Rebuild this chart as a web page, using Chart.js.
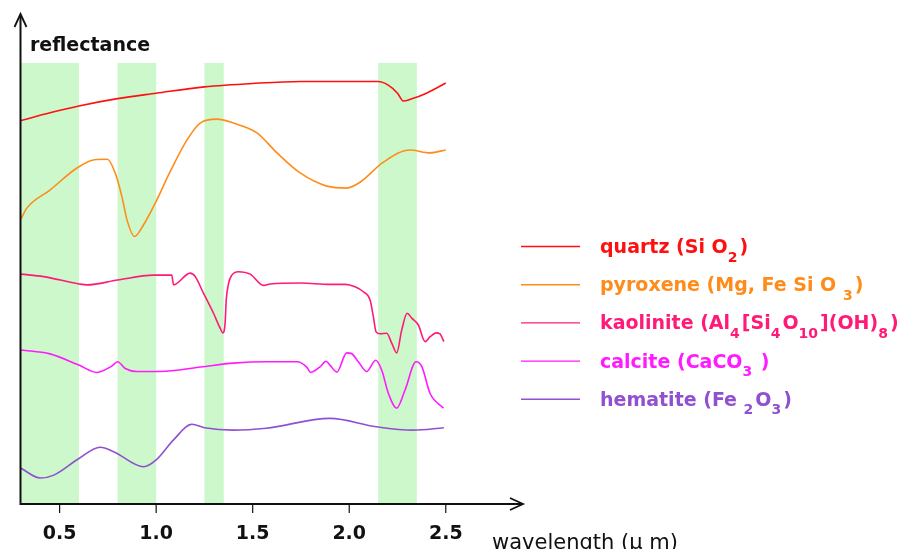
<!DOCTYPE html>
<html><head><meta charset="utf-8">
<style>html,body{margin:0;padding:0;background:#fff}</style>
<script src="https://cdn.jsdelivr.net/npm/chart.js@4/dist/chart.umd.min.js"></script>
</head><body>
<canvas id="c" width="910" height="549"></canvas>
<script>
// ---- data (wavelength in µm, reflectance in arbitrary units 0-100) ----
const xTicks = [0.5, 1.0, 1.5, 2.0, 2.5];
const bandStarts = [0.3, 0.8, 1.25, 2.15];
const bandEnds   = [0.6, 1.0, 1.35, 2.35];
const bandTop = 90;

const quartzX = [0.30,0.45,0.60,0.80,1.00,1.25,1.50,1.75,2.00,2.15,2.20,2.25,2.28,2.32,2.40,2.50];
const quartzY = [78.2,79.8,81.2,82.7,83.8,85.1,85.8,86.2,86.2,86.2,85.5,83.8,82.2,82.6,83.8,85.9];

const pyroxeneX = [0.30,0.33,0.45,0.59,0.68,0.747,0.788,0.823,0.849,0.888,0.935,0.995,1.073,1.159,1.228,1.314,1.40,1.522,1.626,1.746,1.884,1.987,2.056,2.177,2.315,2.418,2.50];
const pyroxeneY = [58.1,60.3,64.0,68.5,70.2,70.3,67.5,62.6,57.9,54.5,56.9,61.3,67.8,74.2,77.7,78.5,77.7,75.7,71.6,67.5,64.8,64.4,65.6,69.7,72.2,71.6,72.2];

const kaoliniteX = [0.30,0.417,0.60,0.642,0.80,0.985,1.081,1.09,1.176,1.202,1.245,1.297,1.332,1.345,1.357,1.363,1.375,1.392,1.426,1.487,1.556,1.59,1.75,1.90,1.98,2.03,2.073,2.108,2.125,2.139,2.16,2.194,2.22,2.246,2.272,2.30,2.324,2.358,2.393,2.419,2.45,2.47,2.49];
const kaoliniteY = [46.8,46.3,44.8,44.6,45.6,46.6,46.6,44.6,47.0,46.3,42.9,38.8,35.7,34.8,36.7,41.5,44.9,46.6,47.3,46.8,44.5,44.8,45.0,44.7,44.7,44.2,43.2,41.5,38.1,35.0,34.6,34.7,32.7,30.7,35.4,38.8,37.8,36.4,33.0,34.0,34.8,34.6,33.0];

const calciteX = [0.30,0.45,0.60,0.693,0.77,0.80,0.84,0.90,1.02,1.23,1.40,1.57,1.73,1.78,1.80,1.85,1.88,1.90,1.936,1.987,2.01,2.047,2.09,2.137,2.168,2.203,2.246,2.289,2.346,2.376,2.419,2.488];
const calciteY = [31.3,30.5,28.2,26.7,28.0,28.9,27.5,26.9,26.9,27.8,28.6,28.9,28.9,27.8,26.7,27.9,29.0,28.2,26.8,30.7,30.6,28.9,26.9,29.2,27.2,22.4,19.4,23.1,28.9,27.9,22.4,19.4];

const hematiteX = [0.30,0.40,0.47,0.60,0.71,0.78,0.935,1.00,1.09,1.185,1.25,1.40,1.57,1.90,2.14,2.33,2.49];
const hematiteY = [7.1,5.1,5.7,9.1,11.4,10.5,7.4,8.8,12.9,16.1,15.4,14.9,15.3,17.3,15.6,14.9,15.4];

const seriesNames = ['quartz','pyroxene','kaolinite','calcite','hematite'];
const seriesColors = ['#ff1010','#ff8c1a','#ff1a78','#ff1aff','#9050d0'];
// legend labels: [text, isSubscript]
const legendLabels = [
  [['quartz (Si O',0],['2',1],[')',0]],
  [['pyroxene (Mg, Fe Si O ',0],['3',1],[')',0]],
  [['kaolinite (Al',0],['4',1],['[Si',0],['4',1],['O',0],['10',1],['](OH)',0],['8',1],[')',0]],
  [['calcite (CaCO',0],['3',1],[' )',0]],
  [['hematite (Fe ',0],['2',1],['O',0],['3',1],[')',0]]
];
const xTitle = 'wavelength (\u00b5 m)';
const yTitle = 'reflectance';

const xs = [quartzX, pyroxeneX, kaoliniteX, calciteX, hematiteX];
const ys = [quartzY, pyroxeneY, kaoliniteY, calciteY, hematiteY];

const datasets = seriesNames.map((n,i)=>({
  label: n,
  data: xs[i].map((x,j)=>({x:x, y:ys[i][j]})),
  borderColor: seriesColors[i],
  borderWidth: 1.6,
  pointRadius: 0,
  showLine: true,
  fill: false,
  cubicInterpolationMode: 'monotone'
}));

const FONT = "'DejaVu Sans'";

const decor = {
  id: 'decor',
  beforeDatasetsDraw(chart) {
    const ctx = chart.ctx, xS = chart.scales.x, yS = chart.scales.y;
    ctx.save();
    ctx.fillStyle = '#ccf8cc';
    const yt = yS.getPixelForValue(bandTop), yb = yS.getPixelForValue(0);
    for (let i = 0; i < bandStarts.length; i++) {
      const x0 = xS.getPixelForValue(bandStarts[i]), x1 = xS.getPixelForValue(bandEnds[i]);
      ctx.fillRect(x0, yt, x1 - x0, yb - yt);
    }
    ctx.restore();
  },
  afterDraw(chart) {
    const ctx = chart.ctx, xS = chart.scales.x, yS = chart.scales.y, a = chart.chartArea;
    ctx.save();
    const ax = a.left - 0.5, ay = a.bottom + 1;
    ctx.strokeStyle = '#111';
    ctx.lineWidth = 2;
    ctx.beginPath();
    ctx.moveTo(ax, ay + 1); ctx.lineTo(ax, a.top + 1);
    ctx.moveTo(ax - 1, ay); ctx.lineTo(a.right - 1, ay);
    ctx.stroke();
    // arrows
    ctx.lineWidth = 1.8;
    ctx.beginPath();
    ctx.moveTo(ax - 6, a.top + 13); ctx.lineTo(ax, a.top); ctx.lineTo(ax + 6, a.top + 13);
    ctx.moveTo(a.right - 13, ay - 6); ctx.lineTo(a.right, ay); ctx.lineTo(a.right - 13, ay + 6);
    ctx.stroke();
    // ticks
    ctx.lineWidth = 1.2;
    ctx.fillStyle = '#111';
    ctx.font = 'bold 19px ' + FONT;
    ctx.textAlign = 'center'; ctx.textBaseline = 'middle';
    xTicks.forEach(t => {
      const px = xS.getPixelForValue(t);
      ctx.beginPath(); ctx.moveTo(px, ay); ctx.lineTo(px, ay + 9); ctx.stroke();
      ctx.fillText(t.toFixed(1), px, 534);
    });
    // titles
    ctx.textAlign = 'left';
    ctx.textBaseline = 'alphabetic';
    ctx.font = 'bold 19px ' + FONT;
    ctx.fillText(yTitle, 30, 51);
    ctx.font = '21px ' + FONT;
    ctx.fillText(xTitle, 492, 549);
    // legend
    for (let i = 0; i < seriesNames.length; i++) {
      const ly = 246.5 + i * 38.2;
      ctx.strokeStyle = seriesColors[i];
      ctx.lineWidth = 1.4;
      ctx.beginPath(); ctx.moveTo(521, ly); ctx.lineTo(580, ly); ctx.stroke();
      ctx.fillStyle = seriesColors[i];
      let x = 600;
      legendLabels[i].forEach(([txt, sub]) => {
        ctx.font = sub ? 'bold 14px ' + FONT : 'bold 19px ' + FONT;
        ctx.fillText(txt, x, ly + (sub ? 15 : 6.5));
        x += ctx.measureText(txt).width + (sub ? 2 : 0);
      });
    }
    ctx.restore();
  }
};

new Chart(document.getElementById('c'), {
  type: 'scatter',
  data: { datasets },
  options: {
    responsive: false,
    devicePixelRatio: 1,
    animation: false,
    layout: { padding: { left: 21, right: 387, top: 14, bottom: 46 } },
    plugins: { legend: { display: false }, tooltip: { enabled: false } },
    scales: {
      x: { type: 'linear', min: 0.3, max: 2.9, display: false },
      y: { type: 'linear', min: 0, max: 100, display: false }
    }
  },
  plugins: [decor]
});
</script>
</body></html>
